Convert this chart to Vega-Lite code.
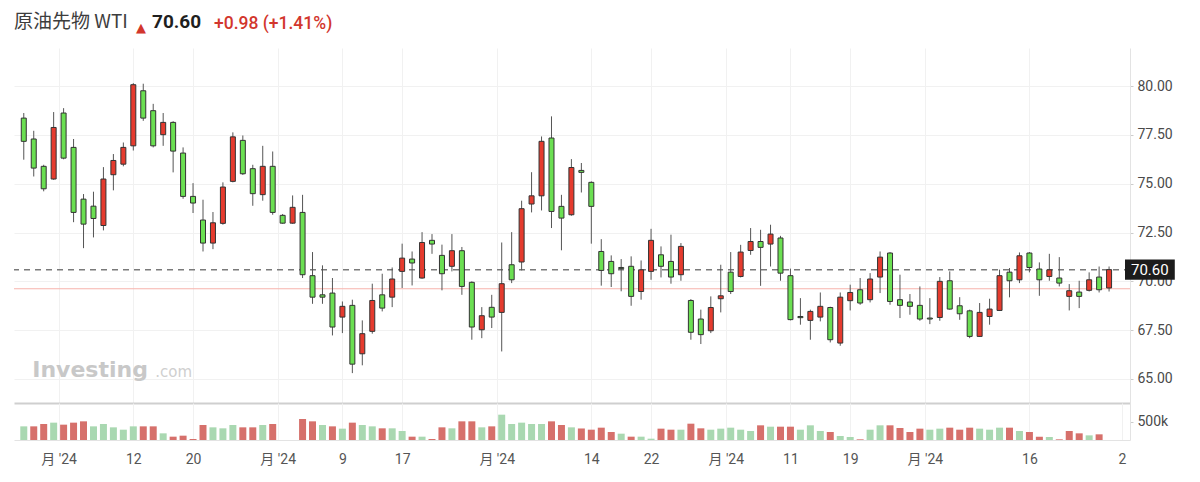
{
  "$schema": "https://vega.github.io/schema/vega-lite/v6.json",
  "autosize": {"type": "pad"},
  "padding": {"left": 13, "top": 12, "right": 0, "bottom": 0},
  "background": "white",
  "data": {
    "values": [
      {"i": 0, "o": 78.36, "h": 78.62, "l": 76.23, "c": 77.17, "v": 373000},
      {"i": 1, "o": 77.29, "h": 77.71, "l": 75.37, "c": 75.80, "v": 373000},
      {"i": 2, "o": 75.89, "h": 75.97, "l": 74.61, "c": 74.74, "v": 437000},
      {"i": 3, "o": 75.24, "h": 78.67, "l": 75.20, "c": 77.88, "v": 474000},
      {"i": 4, "o": 78.62, "h": 78.87, "l": 76.25, "c": 76.31, "v": 419000},
      {"i": 5, "o": 76.86, "h": 77.29, "l": 73.03, "c": 73.53, "v": 474000},
      {"i": 6, "o": 74.21, "h": 74.47, "l": 71.70, "c": 72.93, "v": 510000},
      {"i": 7, "o": 73.85, "h": 74.59, "l": 72.25, "c": 73.22, "v": 373000},
      {"i": 8, "o": 72.86, "h": 75.85, "l": 72.61, "c": 75.24, "v": 437000},
      {"i": 9, "o": 75.46, "h": 76.52, "l": 74.66, "c": 76.19, "v": 346000},
      {"i": 10, "o": 76.00, "h": 77.11, "l": 75.89, "c": 76.86, "v": 282000},
      {"i": 11, "o": 76.94, "h": 80.15, "l": 76.70, "c": 80.07, "v": 373000},
      {"i": 12, "o": 79.76, "h": 80.12, "l": 78.22, "c": 78.36, "v": 373000},
      {"i": 13, "o": 78.74, "h": 79.09, "l": 76.86, "c": 76.94, "v": 373000},
      {"i": 14, "o": 77.51, "h": 78.62, "l": 76.94, "c": 78.14, "v": 182000},
      {"i": 15, "o": 78.14, "h": 78.20, "l": 75.58, "c": 76.67, "v": 91000},
      {"i": 16, "o": 76.57, "h": 76.86, "l": 74.23, "c": 74.35, "v": 118000},
      {"i": 17, "o": 74.35, "h": 75.03, "l": 73.50, "c": 74.01, "v": 27000},
      {"i": 18, "o": 73.14, "h": 74.18, "l": 71.53, "c": 71.96, "v": 410000},
      {"i": 19, "o": 71.96, "h": 73.55, "l": 71.65, "c": 73.00, "v": 346000},
      {"i": 20, "o": 72.97, "h": 75.07, "l": 72.90, "c": 74.83, "v": 319000},
      {"i": 21, "o": 75.12, "h": 77.63, "l": 75.07, "c": 77.40, "v": 410000},
      {"i": 22, "o": 77.22, "h": 77.47, "l": 75.45, "c": 75.51, "v": 346000},
      {"i": 23, "o": 75.77, "h": 75.97, "l": 73.87, "c": 74.49, "v": 346000},
      {"i": 24, "o": 74.44, "h": 76.94, "l": 74.13, "c": 75.89, "v": 410000},
      {"i": 25, "o": 75.89, "h": 76.65, "l": 73.41, "c": 73.53, "v": 437000},
      {"i": 26, "o": 73.38, "h": 73.45, "l": 72.95, "c": 72.98, "v": null},
      {"i": 27, "o": 72.98, "h": 74.40, "l": 72.95, "c": 73.79, "v": null},
      {"i": 28, "o": 73.53, "h": 74.43, "l": 70.17, "c": 70.34, "v": 574000},
      {"i": 29, "o": 70.29, "h": 71.50, "l": 68.85, "c": 69.19, "v": 510000},
      {"i": 30, "o": 69.31, "h": 70.82, "l": 68.85, "c": 69.19, "v": 410000},
      {"i": 31, "o": 69.40, "h": 70.17, "l": 67.23, "c": 67.66, "v": 373000},
      {"i": 32, "o": 68.17, "h": 68.97, "l": 67.35, "c": 68.72, "v": 310000},
      {"i": 33, "o": 68.77, "h": 69.06, "l": 65.30, "c": 65.76, "v": 474000},
      {"i": 34, "o": 66.29, "h": 68.00, "l": 65.70, "c": 67.32, "v": 410000},
      {"i": 35, "o": 67.44, "h": 69.88, "l": 67.32, "c": 69.02, "v": 373000},
      {"i": 36, "o": 69.31, "h": 70.39, "l": 68.46, "c": 68.63, "v": 319000},
      {"i": 37, "o": 69.19, "h": 70.71, "l": 68.68, "c": 70.12, "v": 319000},
      {"i": 38, "o": 70.51, "h": 71.93, "l": 69.66, "c": 71.19, "v": 246000},
      {"i": 39, "o": 71.14, "h": 71.53, "l": 69.79, "c": 70.94, "v": 91000},
      {"i": 40, "o": 70.17, "h": 72.52, "l": 70.13, "c": 71.99, "v": 91000},
      {"i": 41, "o": 72.10, "h": 72.42, "l": 71.41, "c": 71.91, "v": 27000},
      {"i": 42, "o": 71.33, "h": 71.88, "l": 69.54, "c": 70.39, "v": 346000},
      {"i": 43, "o": 70.77, "h": 72.42, "l": 70.51, "c": 71.57, "v": 319000},
      {"i": 44, "o": 71.57, "h": 71.76, "l": 69.31, "c": 69.74, "v": 510000},
      {"i": 45, "o": 69.95, "h": 70.00, "l": 67.01, "c": 67.66, "v": 510000},
      {"i": 46, "o": 67.52, "h": 68.68, "l": 67.09, "c": 68.24, "v": 346000},
      {"i": 47, "o": 68.67, "h": 69.31, "l": 67.61, "c": 68.17, "v": 373000},
      {"i": 48, "o": 68.41, "h": 71.99, "l": 66.41, "c": 69.88, "v": 692000},
      {"i": 49, "o": 70.85, "h": 72.52, "l": 69.91, "c": 70.08, "v": 437000},
      {"i": 50, "o": 70.99, "h": 74.13, "l": 70.56, "c": 73.72, "v": 474000},
      {"i": 51, "o": 73.96, "h": 75.59, "l": 73.53, "c": 74.38, "v": 437000},
      {"i": 52, "o": 74.38, "h": 77.42, "l": 73.63, "c": 77.17, "v": 437000},
      {"i": 53, "o": 77.34, "h": 78.45, "l": 72.73, "c": 73.58, "v": 510000},
      {"i": 54, "o": 73.84, "h": 74.43, "l": 71.59, "c": 73.24, "v": 410000},
      {"i": 55, "o": 73.41, "h": 76.26, "l": 73.36, "c": 75.83, "v": 346000},
      {"i": 56, "o": 75.68, "h": 76.06, "l": 74.55, "c": 75.58, "v": 315000},
      {"i": 57, "o": 75.07, "h": 75.12, "l": 71.93, "c": 73.84, "v": 282000},
      {"i": 58, "o": 71.53, "h": 72.16, "l": 69.78, "c": 70.56, "v": 337000},
      {"i": 59, "o": 71.02, "h": 71.33, "l": 69.71, "c": 70.39, "v": 219000},
      {"i": 60, "o": 70.71, "h": 71.14, "l": 69.49, "c": 70.65, "v": 173000},
      {"i": 61, "o": 70.77, "h": 71.28, "l": 68.75, "c": 69.23, "v": 91000},
      {"i": 62, "o": 69.48, "h": 71.07, "l": 69.06, "c": 70.59, "v": 91000},
      {"i": 63, "o": 70.51, "h": 72.69, "l": 70.08, "c": 72.10, "v": 36000},
      {"i": 64, "o": 71.36, "h": 71.79, "l": 70.20, "c": 70.77, "v": 310000},
      {"i": 65, "o": 71.02, "h": 72.39, "l": 69.88, "c": 70.22, "v": 282000},
      {"i": 66, "o": 70.34, "h": 71.96, "l": 70.03, "c": 71.79, "v": 282000},
      {"i": 67, "o": 69.02, "h": 69.09, "l": 67.01, "c": 67.39, "v": 446000},
      {"i": 68, "o": 68.07, "h": 68.55, "l": 66.79, "c": 67.27, "v": 319000},
      {"i": 69, "o": 67.47, "h": 69.23, "l": 67.35, "c": 68.66, "v": 282000},
      {"i": 70, "o": 69.11, "h": 70.85, "l": 68.41, "c": 69.26, "v": 310000},
      {"i": 71, "o": 70.47, "h": 71.50, "l": 69.35, "c": 69.48, "v": 337000},
      {"i": 72, "o": 70.25, "h": 71.87, "l": 70.20, "c": 71.50, "v": 282000},
      {"i": 73, "o": 71.58, "h": 72.73, "l": 71.36, "c": 72.04, "v": 246000},
      {"i": 74, "o": 72.04, "h": 72.64, "l": 69.77, "c": 71.74, "v": 401000},
      {"i": 75, "o": 71.91, "h": 72.90, "l": 70.76, "c": 72.42, "v": 364000},
      {"i": 76, "o": 72.22, "h": 72.33, "l": 70.03, "c": 70.42, "v": 364000},
      {"i": 77, "o": 70.29, "h": 70.65, "l": 68.00, "c": 68.04, "v": 364000},
      {"i": 78, "o": 68.20, "h": 69.14, "l": 67.78, "c": 68.14, "v": 282000},
      {"i": 79, "o": 68.00, "h": 68.55, "l": 67.01, "c": 68.46, "v": 401000},
      {"i": 80, "o": 68.17, "h": 69.43, "l": 67.95, "c": 68.72, "v": 246000},
      {"i": 81, "o": 68.66, "h": 68.70, "l": 66.87, "c": 67.01, "v": 219000},
      {"i": 82, "o": 66.84, "h": 69.43, "l": 66.70, "c": 69.19, "v": 109000},
      {"i": 83, "o": 69.01, "h": 69.83, "l": 68.51, "c": 69.43, "v": 82000},
      {"i": 84, "o": 69.57, "h": 70.17, "l": 68.80, "c": 68.89, "v": 18000},
      {"i": 85, "o": 69.06, "h": 70.42, "l": 68.92, "c": 70.12, "v": 282000},
      {"i": 86, "o": 70.22, "h": 71.53, "l": 69.40, "c": 71.24, "v": 401000},
      {"i": 87, "o": 71.45, "h": 71.50, "l": 68.80, "c": 68.97, "v": 401000},
      {"i": 88, "o": 69.06, "h": 70.34, "l": 68.12, "c": 68.77, "v": 328000},
      {"i": 89, "o": 68.94, "h": 69.35, "l": 68.29, "c": 68.72, "v": 219000},
      {"i": 90, "o": 68.77, "h": 69.74, "l": 67.98, "c": 68.07, "v": 310000},
      {"i": 91, "o": 68.12, "h": 69.14, "l": 67.81, "c": 68.07, "v": 282000},
      {"i": 92, "o": 68.15, "h": 70.22, "l": 67.98, "c": 70.00, "v": 310000},
      {"i": 93, "o": 70.03, "h": 70.51, "l": 68.55, "c": 68.58, "v": 337000},
      {"i": 94, "o": 68.75, "h": 69.19, "l": 68.03, "c": 68.34, "v": 282000},
      {"i": 95, "o": 68.49, "h": 68.55, "l": 67.09, "c": 67.18, "v": 337000},
      {"i": 96, "o": 67.18, "h": 68.89, "l": 67.15, "c": 68.41, "v": 310000},
      {"i": 97, "o": 68.20, "h": 69.11, "l": 67.78, "c": 68.58, "v": 282000},
      {"i": 98, "o": 68.51, "h": 70.60, "l": 68.48, "c": 70.29, "v": 337000},
      {"i": 99, "o": 70.47, "h": 70.68, "l": 69.18, "c": 70.03, "v": 337000},
      {"i": 100, "o": 70.08, "h": 71.48, "l": 69.91, "c": 71.31, "v": 246000},
      {"i": 101, "o": 71.45, "h": 71.50, "l": 70.46, "c": 70.71, "v": 219000},
      {"i": 102, "o": 70.63, "h": 70.97, "l": 69.26, "c": 70.08, "v": 91000},
      {"i": 103, "o": 70.25, "h": 71.41, "l": 70.03, "c": 70.59, "v": 82000},
      {"i": 104, "o": 70.17, "h": 71.24, "l": 69.74, "c": 69.91, "v": 18000},
      {"i": 105, "o": 69.23, "h": 69.86, "l": 68.51, "c": 69.52, "v": 246000},
      {"i": 106, "o": 69.45, "h": 70.03, "l": 68.63, "c": 69.23, "v": 182000},
      {"i": 107, "o": 69.54, "h": 70.46, "l": 69.48, "c": 70.08, "v": 127000},
      {"i": 108, "o": 70.22, "h": 70.76, "l": 69.43, "c": 69.57, "v": 155000},
      {"i": 109, "o": 69.66, "h": 70.76, "l": 69.48, "c": 70.60, "v": null}
    ]
  },
  "spacing": 0,
  "vconcat": [
    {
      "spacing": 0,
      "hconcat": [
        {
          "width": 122, "height": 1,
          "data": {"values": [{}]},
          "mark": {"type": "point", "opacity": 0},
          "title": {"text": "原油先物 WTI", "font": "Noto Sans CJK JP", "fontSize": 19, "fontWeight": "normal", "color": "#3d3d3d", "anchor": "start", "frame": "group", "baseline": "alphabetic", "offset": -5}
        },
        {
          "width": 16, "height": 1,
          "data": {"values": [{}]},
          "mark": {"type": "point", "opacity": 0},
          "title": {"text": "▲", "font": "DejaVu Sans", "fontSize": 13, "fontWeight": "normal", "color": "#d2362d", "anchor": "start", "frame": "group", "baseline": "alphabetic", "offset": -3}
        },
        {
          "width": 62, "height": 1,
          "data": {"values": [{}]},
          "mark": {"type": "point", "opacity": 0},
          "title": {"text": "70.60", "font": "Roboto", "fontSize": 19, "fontWeight": "bold", "color": "#1f1f1f", "anchor": "start", "frame": "group", "baseline": "alphabetic", "offset": -5}
        },
        {
          "width": 916, "height": 1,
          "data": {"values": [{}]},
          "mark": {"type": "point", "opacity": 0},
          "title": {"text": "+0.98 (+1.41%)", "font": "Roboto", "fontSize": 17.5, "fontWeight": 500, "color": "#d2362d", "anchor": "start", "frame": "group", "baseline": "alphabetic", "offset": -5}
        }
      ]
    },
    {
      "width": 1116,
      "height": 355,
      "layer": [
        {
          "data": {"values": [{}]},
          "mark": {"type": "rule", "stroke": "#f7b3ad", "strokeWidth": 1.2},
          "encoding": {"y": {"datum": 69.62, "type": "quantitative"}}
        },
        {
          "data": {"values": [{}]},
          "mark": {"type": "rule", "stroke": "#7a7a7a", "strokeWidth": 1.5, "strokeDash": [6, 5]},
          "encoding": {"y": {"datum": 70.6, "type": "quantitative"}}
        },
        {
          "data": {"values": [{}]},
          "mark": {"type": "text", "align": "left", "baseline": "alphabetic", "font": "DejaVu Sans", "fontWeight": "bold", "fontSize": 22, "color": "#c8c8c8", "text": "Investing"},
          "encoding": {
            "x": {"datum": 0.85, "type": "quantitative"},
            "y": {"datum": 65.1, "type": "quantitative"}
          }
        },
        {
          "data": {"values": [{}]},
          "mark": {"type": "text", "align": "left", "baseline": "alphabetic", "font": "DejaVu Sans", "fontSize": 15, "color": "#cfcfcf", "text": ".com"},
          "encoding": {
            "x": {"datum": 13.2, "type": "quantitative"},
            "y": {"datum": 65.1, "type": "quantitative"}
          }
        },
        {
          "mark": {"type": "rule", "stroke": "#555555", "strokeWidth": 1},
          "encoding": {
            "x": {
              "field": "i", "type": "quantitative",
              "scale": {"domain": [-0.48, 110.6], "nice": false, "zero": false},
              "axis": {
                "values": [3.5, 11, 17, 25.5, 32, 38, 47.5, 57, 63, 70.5, 77, 83, 90.5, 101],
                "labels": false, "ticks": false, "title": null,
                "domainColor": "#cfcfcf", "domainWidth": 2,
                "grid": true, "gridColor": "#f1f1f1"
              }
            },
            "y": {
              "field": "l", "type": "quantitative",
              "scale": {"domain": [63.77, 81.95], "nice": false, "zero": false},
              "axis": {
                "orient": "right", "values": [65, 67.5, 70, 72.5, 75, 77.5, 80], "format": ".2f", "title": null,
                "labelFont": "Roboto", "labelFontSize": 14, "labelColor": "#4a4a4a", "labelPadding": 4,
                "tickSize": 3, "tickColor": "#cccccc", "domainColor": "#e3e3e3",
                "grid": true, "gridColor": "#f1f1f1"
              }
            },
            "y2": {"field": "h"}
          }
        },
        {
          "mark": {"type": "bar", "width": 5, "stroke": "#333333", "strokeWidth": 1},
          "encoding": {
            "x": {"field": "i", "type": "quantitative"},
            "y": {"field": "o", "type": "quantitative"},
            "y2": {"field": "c"},
            "fill": {"condition": {"test": "datum.c >= datum.o", "value": "#e53b2e"}, "value": "#6bdf52"}
          }
        },
        {
          "data": {"values": [{}]},
          "mark": {"type": "rect", "fill": "#1c1c1c"},
          "encoding": {
            "x": {"datum": 110.6, "type": "quantitative"},
            "x2": {"datum": 115.6},
            "y": {"datum": 71.12, "type": "quantitative"},
            "y2": {"datum": 70.08}
          }
        },
        {
          "data": {"values": [{}]},
          "mark": {"type": "text", "align": "left", "baseline": "middle", "font": "Roboto", "fontSize": 15, "color": "white", "text": "70.60"},
          "encoding": {
            "x": {"datum": 111.2, "type": "quantitative"},
            "y": {"datum": 70.6, "type": "quantitative"}
          }
        }
      ]
    },
    {
      "width": 1116,
      "height": 37,
      "transform": [
        {"window": [{"op": "lag", "field": "c", "as": "pc"}], "sort": [{"field": "i"}]}
      ],
      "mark": {"type": "bar", "width": 7},
      "encoding": {
        "x": {
          "field": "i", "type": "quantitative",
          "scale": {"domain": [-0.48, 110.6], "nice": false, "zero": false},
          "axis": {
            "values": [3.5, 11, 17, 25.5, 32, 38, 47.5, 57, 63, 70.5, 77, 83, 90.5, 101, 110.3],
            "labelExpr": "datum.value % 1 == 0.5 ? \"月 '24\" : datum.value == 11 ? '12' : datum.value == 17 ? '20' : datum.value == 32 ? '9' : datum.value == 38 ? '17' : datum.value == 57 ? '14' : datum.value == 63 ? '22' : datum.value == 77 ? '11' : datum.value == 83 ? '19' : datum.value == 101 ? '16' : '2'",
            "labelFont": "Roboto, Noto Sans CJK JP", "labelFontSize": 14, "labelColor": "#555555",
            "labelPadding": 12, "labelFlush": false, "labelOverlap": false,
            "ticks": false, "title": null, "domainColor": "#e3e3e3",
            "grid": true, "gridColor": "#f1f1f1"
          }
        },
        "y": {
          "field": "v", "type": "quantitative",
          "scale": {"domain": [0, 1011000], "nice": false},
          "axis": {
            "orient": "right", "values": [500000], "labelExpr": "format(datum.value, '~s')", "title": null,
            "labelFont": "Roboto", "labelFontSize": 14, "labelColor": "#4a4a4a", "labelPadding": 4,
            "tickSize": 3, "tickColor": "#cccccc", "domainColor": "#e3e3e3", "grid": false
          }
        },
        "fill": {"condition": {"test": "datum.c >= datum.pc", "value": "#a9d8b1"}, "value": "#d6706b"}
      }
    }
  ],
  "config": {
    "view": {"stroke": null},
    "font": "Roboto"
  }
}
